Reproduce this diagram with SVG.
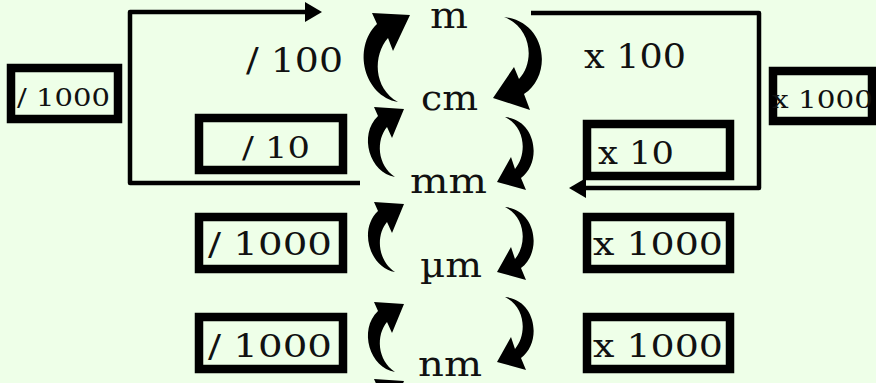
<svg xmlns="http://www.w3.org/2000/svg" xmlns:xlink="http://www.w3.org/1999/xlink" width="876" height="383" viewBox="0 0 876 383">
<style>
.bg{fill:#EEFFE8}
.box{fill:none;stroke:#000;stroke-width:8.5}
.t{font-family:"DejaVu Serif","Liberation Serif",serif;fill:#111}
.conn{fill:none;stroke:#000;stroke-width:4.5;stroke-linejoin:round}
.ca{fill:#000}
</style>
<defs>
<marker id="ah" markerUnits="userSpaceOnUse" markerWidth="18" markerHeight="24" refX="1" refY="11" orient="auto">
<path d="M0,1 L17,11 L0,21 Z" fill="#000"/>
</marker>
<path id="la" d="M 395 372 C 370 368, 358 330, 378 311 L 374 302 L 404 304 L 392 333 L 387 322 C 376 335, 377 360, 395 372 Z"/>
<path id="ra" d="M 505 297 C 537 300, 542 343, 521 358 L 526 370 L 497 362 L 511 337 L 515 349 C 527 335, 526 307, 505 297 Z"/>
</defs>
<rect class="bg" x="0" y="0" width="876" height="383"/>

<g id="connectors">
<path class="conn" d="M 360 183 L 130 183 L 130 12 L 306 12" marker-end="url(#ah)"/>
<path class="conn" d="M 531 13 L 759 13 L 759 188 L 585 188" marker-end="url(#ah)"/>
<g class="ca">
<path d="M 398 102 C 364 96, 352 48, 377 24 L 372 13 L 410 15 L 393 51 L 388 38 C 373 55, 373 88, 398 102 Z"/>
<use xlink:href="#la" transform="translate(0,-195)"/>
<use xlink:href="#la" transform="translate(0,-100)"/>
<use xlink:href="#la"/>
<use xlink:href="#la" transform="translate(0,77)"/>
<path d="M 504 17 C 547 22, 553 75, 524 94 L 530 110 L 493 98 L 514 67 L 519 79 C 535 62, 532 28, 504 17 Z"/>
<use xlink:href="#ra" transform="translate(0,-180)"/>
<use xlink:href="#ra" transform="translate(0,-90)"/>
<use xlink:href="#ra"/>
</g>
</g>

<g id="unit-m"><text class="t" x="430" y="28" font-size="35" textLength="38" lengthAdjust="spacingAndGlyphs">m</text></g>
<g id="unit-cm"><text class="t" x="421" y="110" font-size="36" textLength="57" lengthAdjust="spacingAndGlyphs">cm</text></g>
<g id="unit-mm"><text class="t" x="410" y="193" font-size="36" textLength="77" lengthAdjust="spacingAndGlyphs">mm</text></g>
<g id="unit-um"><text class="t" x="420" y="277" font-size="36" textLength="62" lengthAdjust="spacingAndGlyphs">µm</text></g>
<g id="unit-nm"><text class="t" x="418" y="376" font-size="36" textLength="64" lengthAdjust="spacingAndGlyphs">nm</text></g>

<g id="label-div100"><text class="t" x="246" y="72" font-size="33" textLength="97" lengthAdjust="spacingAndGlyphs">/ 100</text></g>
<g id="label-mul100"><text class="t" x="584" y="68" font-size="33" textLength="102" lengthAdjust="spacingAndGlyphs">x 100</text></g>

<g id="box-div1000-small">
<rect class="box" x="11" y="68" width="107" height="51"/>
<text class="t" x="17" y="106" font-size="25" textLength="93" lengthAdjust="spacingAndGlyphs">/ 1000</text>
</g>
<g id="box-mul1000-small">
<rect class="box" x="773" y="71" width="99" height="50"/>
<text class="t" x="772" y="108" font-size="25" textLength="101" lengthAdjust="spacingAndGlyphs">x 1000</text>
</g>

<g id="box-div10">
<rect class="box" x="199" y="118" width="144" height="52"/>
<text class="t" x="242" y="158" font-size="30" textLength="68" lengthAdjust="spacingAndGlyphs">/ 10</text>
</g>
<g id="box-mul10">
<rect class="box" x="587" y="124" width="143" height="52"/>
<text class="t" x="598" y="164" font-size="32" textLength="76" lengthAdjust="spacingAndGlyphs">x 10</text>
</g>

<g id="box-div1000-a">
<rect class="box" x="199" y="217" width="144" height="52"/>
<text class="t" x="208" y="255" font-size="31" textLength="124" lengthAdjust="spacingAndGlyphs">/ 1000</text>
</g>
<g id="box-div1000-b">
<rect class="box" x="199" y="317" width="144" height="52"/>
<text class="t" x="208" y="357" font-size="31" textLength="124" lengthAdjust="spacingAndGlyphs">/ 1000</text>
</g>
<g id="box-mul1000-a">
<rect class="box" x="587" y="217" width="143" height="52"/>
<text class="t" x="593" y="255" font-size="31" textLength="130" lengthAdjust="spacingAndGlyphs">x 1000</text>
</g>
<g id="box-mul1000-b">
<rect class="box" x="587" y="317" width="143" height="52"/>
<text class="t" x="593" y="357" font-size="31" textLength="130" lengthAdjust="spacingAndGlyphs">x 1000</text>
</g>
</svg>
